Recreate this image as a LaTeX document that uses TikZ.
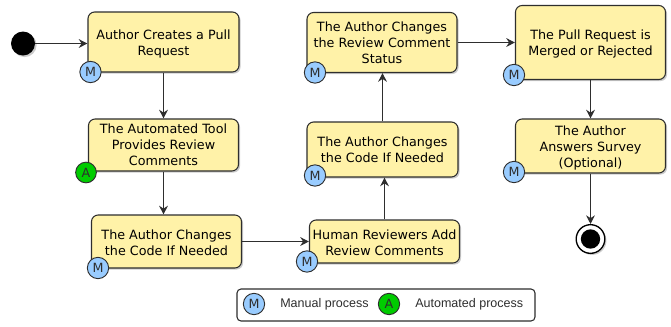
\documentclass[tikz,border=0pt]{standalone}
\usepackage{fontspec}
\setmainfont{DejaVu Sans}
\newfontfamily\legendfont{Liberation Sans}
\usetikzlibrary{arrows.meta,shadows}
\definecolor{boxfill}{HTML}{FFF2A8}
\definecolor{boxline}{HTML}{2E2E2E}
\definecolor{manualblue}{HTML}{99CCFF}
\definecolor{autogreen}{HTML}{00CC00}
\tikzset{
  px/.style={x=0.75pt,y=-0.75pt},
  softshadow/.style={drop shadow={shadow xshift=1.2pt,shadow yshift=-1.2pt,opacity=0.2,fill=black}},
  activity/.style={draw=boxline,line width=0.8pt,fill=boxfill,rounded corners=5pt,inner sep=0pt,align=center,
    font=\fontsize{9.55}{12}\selectfont,softshadow},
  badge/.style={circle,draw=boxline,line width=0.7pt,minimum size=16pt,inner sep=0pt,font=\fontsize{9.5}{10}\selectfont,text=boxline},
  mbadge/.style={badge,fill=manualblue},
  abadge/.style={badge,fill=autogreen,minimum size=15.5pt},
  flow/.style={draw=boxline,line width=0.8pt,-{Stealth[length=6.5pt,width=6.5pt]}},
  legendtext/.style={inner sep=0pt,font=\legendfont\fontsize{9.4}{11}\selectfont,text=boxline},
}
\newcommand{\activitynode}[6]{%
  \node[activity,minimum width=#4*0.75pt,minimum height=#5*0.75pt] (#1) at (#2,#3) {#6};}
\newcommand{\dn}{\rule{0pt}{9.5pt}}
\begin{document}
\begin{tikzpicture}[px]
\useasboundingbox (0,0) rectangle (671,326);
\fill[white] (0,0) rectangle (671,326);

\node[circle,fill=black,minimum size=18pt,inner sep=0pt,softshadow] (start) at (23,43.5) {};

\activitynode{a1}{163.5}{42}{151}{60}{\dn Author Creates a Pull\\Request}
\activitynode{a2}{163.5}{145}{150}{52}{The Automated Tool\\Provides Review\\Comments}
\activitynode{a3}{166.5}{241.5}{150}{53}{\dn The Author Changes\\the Code If Needed}
\activitynode{a4}{384.5}{241.5}{150}{43}{\dn Human Reviewers Add\\Review Comments}
\activitynode{a5}{382.5}{149.5}{151}{55}{The Author Changes\\the Code If Needed}
\activitynode{a6}{382}{42.5}{150}{60}{The Author Changes\\the Review Comment\\Status}
\activitynode{a7}{590.5}{42.5}{150}{74}{\dn The Pull Request is\\Merged or Rejected}
\activitynode{a8}{590.5}{146}{150}{54}{\dn The Author\\Answers Survey\\(Optional)}

\node[circle,draw=black,line width=1pt,fill=white,minimum size=21.5pt,inner sep=0pt,softshadow] (endring) at (590.5,239) {};
\node[circle,fill=black,minimum size=14.5pt,inner sep=0pt] (enddot) at (endring) {};

\node[mbadge] (m1) at (90.5,72) {M};
\node[abadge] (g2) at (86,172.5) {A};
\node[mbadge] (m3) at (98,268) {M};
\node[mbadge] (m4) at (307,261.5) {M};
\node[mbadge] (m5) at (315,175.5) {M};
\node[mbadge] (m6) at (315,72.5) {M};
\node[mbadge] (m7) at (514,75) {M};
\node[mbadge] (m8) at (514,172) {M};

\draw[flow] (start) -- (a1.west |- start);
\draw[flow] (a1) -- (a2);
\draw[flow] (a2.south) -- (a3.north -| a2.south);
\draw[flow] (a3) -- (a4);
\draw[flow] (a4.north) -- (a5.south -| a4.north);
\draw[flow] (a5) -- (a5 |- a6.south);
\draw[flow] (a6) -- (a7);
\draw[flow] (a7) -- (a8);
\draw[flow] (a8.south) -- (endring.north -| a8.south);

\node[draw=boxline,line width=0.8pt,fill=white,rounded corners=3pt,minimum width=298*0.75pt,minimum height=32*0.75pt,inner sep=0pt] (legend) at (386,305) {};
\node[mbadge] (lm) at (254,304) {M};
\node[abadge,minimum size=16pt] (la) at (389,304) {A};
\node[legendtext,anchor=west] (lt1) at (280,304.5) {Manual process};
\node[legendtext,anchor=west] (lt2) at (415,304.5) {Automated process};
\end{tikzpicture}
\end{document}
